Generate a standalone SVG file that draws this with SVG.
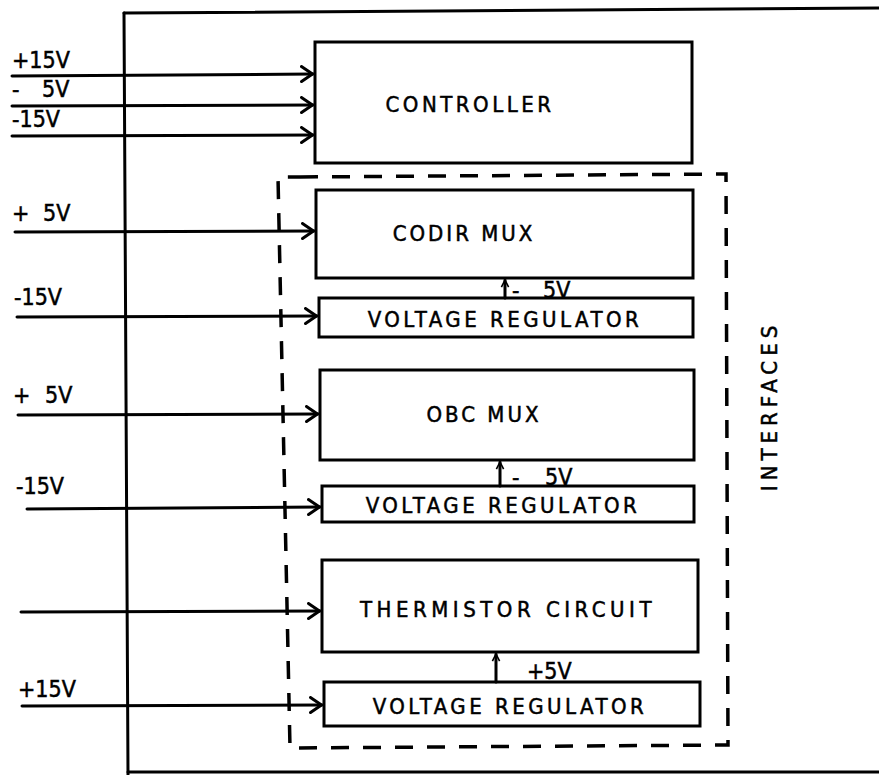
<svg xmlns="http://www.w3.org/2000/svg" width="879" height="775" viewBox="0 0 879 775">
<style>
.ln{stroke:#000;stroke-width:3;fill:none;stroke-linecap:round}
.bx{stroke:#000;stroke-width:3;fill:#fff}
.dash{stroke:#000;stroke-width:3.5;fill:none;stroke-dasharray:18 14}
.lab{font-family:"DejaVu Sans Condensed","DejaVu Sans",sans-serif;font-size:23px;fill:#000;stroke:#000;stroke-width:0.5}
.bt{font-family:"DejaVu Sans Condensed","DejaVu Sans",sans-serif;font-size:22px;fill:#000;stroke:#000;stroke-width:0.5;letter-spacing:3.5px;text-anchor:middle}
</style>
<defs>
<marker id="ah" viewBox="0 0 14 18" refX="13" refY="9" markerWidth="14" markerHeight="18" markerUnits="userSpaceOnUse" orient="auto">
<polyline points="1.5,1.5 12.5,9 1.5,16.5" fill="none" stroke="#000" stroke-width="3" stroke-linecap="round" stroke-linejoin="round"/>
</marker>
<marker id="sa" viewBox="0 0 10 10" refX="9" refY="5" markerWidth="9" markerHeight="10" markerUnits="userSpaceOnUse" orient="auto">
<polyline points="1,1 9,5 1,9" fill="none" stroke="#000" stroke-width="1.8"/>
</marker>
</defs>
<rect width="879" height="775" fill="#fff"/>
<g id="frame">
<line class="ln" x1="124" y1="13" x2="879" y2="8"/>
<line class="ln" x1="124" y1="13" x2="128" y2="775"/>
<line class="ln" x1="128" y1="772" x2="879" y2="772"/>
</g>
<g id="interfaces">
<path class="dash" d="M300,177 L726,174 L728,745 L290,748 L278,177 L300,177"/>
<text class="bt" transform="translate(777,406) rotate(-90)" style="letter-spacing:5px">INTERFACES</text>
</g>
<g id="controller">
<rect class="bx" x="315" y="42" width="377" height="121"/>
<text class="bt" x="470" y="112">CONTROLLER</text>
</g>
<g id="codir">
<rect class="bx" x="316" y="190" width="377" height="88"/>
<text class="bt" x="464" y="241" style="letter-spacing:3px">CODIR MUX</text>
</g>
<g id="vr1">
<rect class="bx" x="319" y="298" width="374" height="39"/>
<text class="bt" x="505" y="327">VOLTAGE REGULATOR</text>
</g>
<g id="obc">
<rect class="bx" x="320" y="370" width="374" height="90"/>
<text class="bt" x="484" y="422" style="letter-spacing:3px">OBC MUX</text>
</g>
<g id="vr2">
<rect class="bx" x="322" y="486" width="372" height="36"/>
<text class="bt" x="503" y="513">VOLTAGE REGULATOR</text>
</g>
<g id="thermistor">
<rect class="bx" x="322" y="560" width="376" height="92"/>
<text class="bt" x="508" y="617" style="letter-spacing:4.5px">THERMISTOR CIRCUIT</text>
</g>
<g id="vr3">
<rect class="bx" x="324" y="682" width="376" height="44"/>
<text class="bt" x="510" y="714">VOLTAGE REGULATOR</text>
</g>
<g id="connectors">
<line class="ln" x1="12" y1="76" x2="313" y2="74" marker-end="url(#ah)"/>
<line class="ln" x1="12" y1="106" x2="313" y2="105" marker-end="url(#ah)"/>
<line class="ln" x1="12" y1="136" x2="313" y2="135" marker-end="url(#ah)"/>
<line class="ln" x1="15" y1="232" x2="314" y2="231" marker-end="url(#ah)"/>
<line class="ln" x1="17" y1="317" x2="317" y2="316" marker-end="url(#ah)"/>
<line class="ln" x1="18" y1="415" x2="318" y2="414" marker-end="url(#ah)"/>
<line class="ln" x1="27" y1="509" x2="320" y2="507" marker-end="url(#ah)"/>
<line class="ln" x1="21" y1="612" x2="320" y2="611" marker-end="url(#ah)"/>
<line class="ln" x1="22" y1="706" x2="322" y2="705" marker-end="url(#ah)"/>
<line class="ln" x1="505" y1="298" x2="505" y2="280" stroke-width="2" marker-end="url(#sa)"/>
<line class="ln" x1="500" y1="486" x2="500" y2="462" stroke-width="2" marker-end="url(#sa)"/>
<line class="ln" x1="496" y1="682" x2="496" y2="654" stroke-width="2" marker-end="url(#sa)"/>
</g>
<g id="labels">
<text class="lab" x="12" y="68">+15V</text>
<text class="lab" x="12" y="97">-<tspan x="42">5V</tspan></text>
<text class="lab" x="12" y="127">-15V</text>
<text class="lab" x="12" y="221">+<tspan x="43">5V</tspan></text>
<text class="lab" x="14" y="305">-15V</text>
<text class="lab" x="13" y="403">+<tspan x="45">5V</tspan></text>
<text class="lab" x="16" y="494">-15V</text>
<text class="lab" x="18" y="697">+15V</text>
<text class="lab" x="512" y="298">-<tspan x="543">5V</tspan></text>
<text class="lab" x="512" y="485">-<tspan x="545">5V</tspan></text>
<text class="lab" x="527" y="679">+5V</text>
</g>
</svg>
